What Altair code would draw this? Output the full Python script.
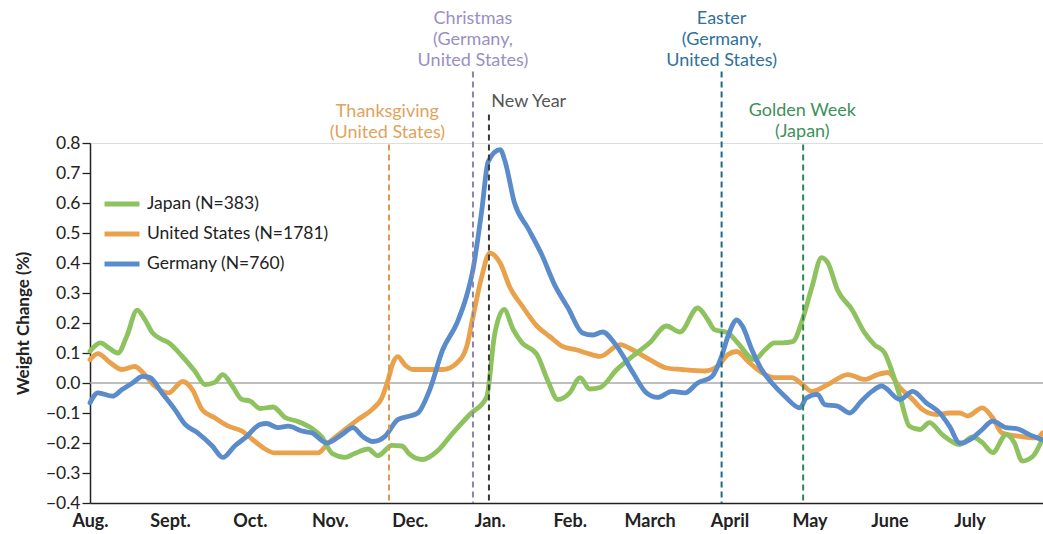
import altair as alt
import pandas as pd

# ---------------- data ----------------
month_labels = ["Aug.", "Sept.", "Oct.", "Nov.", "Dec.", "Jan.", "Feb.",
                "March", "April", "May", "June", "July"]

series_names = ["Japan (N=383)", "United States (N=1781)", "Germany (N=760)"]
series_colors = ["#8dc25f", "#e9a24b", "#5a8bcb"]

# months since 1 August
jp_month = [0.00, 0.13, 0.23, 0.35, 0.46, 0.59, 0.69, 0.78, 0.90, 0.98, 1.15, 1.31,
            1.44, 1.56, 1.66, 1.78, 1.90, 2.00, 2.13, 2.29, 2.44, 2.60, 2.78, 2.90,
            3.03, 3.19, 3.31, 3.48, 3.60, 3.78, 3.90, 4.00, 4.16, 4.34, 4.54, 4.75,
            4.96, 5.06, 5.18, 5.29, 5.40, 5.59, 5.73, 5.85, 6.00, 6.13, 6.25, 6.38,
            6.59, 6.79, 7.00, 7.21, 7.38, 7.60, 7.73, 7.81, 7.98, 8.10, 8.31, 8.44,
            8.56, 8.66, 8.79, 8.91, 9.03, 9.15, 9.23, 9.35, 9.53, 9.69, 9.81, 9.94,
            10.00, 10.13, 10.25, 10.38, 10.50, 10.66, 10.88, 11.04, 11.16, 11.29,
            11.46, 11.56, 11.66, 11.79, 11.91]
jp_value = [0.106, 0.134, 0.118, 0.100, 0.156, 0.243, 0.210, 0.168, 0.145, 0.135, 0.090, 0.040,
            -0.005, 0.002, 0.028, -0.010, -0.055, -0.060, -0.085, -0.080, -0.115, -0.128, -0.152, -0.180,
            -0.235, -0.248, -0.235, -0.220, -0.242, -0.208, -0.210, -0.238, -0.255, -0.228, -0.166, -0.105,
            -0.048, 0.160, 0.245, 0.180, 0.135, 0.095, 0.005, -0.055, -0.033, 0.018, -0.020, -0.015,
            0.045, 0.090, 0.134, 0.190, 0.170, 0.250, 0.210, 0.178, 0.167, 0.134, 0.078, 0.110,
            0.134, 0.134, 0.138, 0.210, 0.320, 0.418, 0.400, 0.310, 0.245, 0.167, 0.128, 0.100,
            0.062, -0.044, -0.144, -0.155, -0.132, -0.172, -0.205, -0.180, -0.198, -0.232,
            -0.172, -0.198, -0.260, -0.245, -0.188]

us_month = [0.00, 0.10, 0.25, 0.40, 0.56, 0.66, 0.81, 0.98, 1.16, 1.28, 1.40, 1.56,
            1.73, 1.90, 2.04, 2.19, 2.31, 2.56, 2.85, 2.98, 3.19, 3.35, 3.53, 3.65,
            3.73, 3.79, 3.85, 3.94, 4.04, 4.21, 4.41, 4.59, 4.71, 4.79, 4.90, 5.00,
            5.13, 5.25, 5.41, 5.59, 5.75, 5.91, 6.09, 6.21, 6.38, 6.63, 6.79, 7.00,
            7.21, 7.40, 7.69, 7.85, 7.98, 8.09, 8.23, 8.40, 8.56, 8.78, 8.91, 9.03,
            9.23, 9.48, 9.69, 9.85, 9.98, 10.13, 10.29, 10.41, 10.59, 10.75, 10.88,
            10.98, 11.16, 11.29, 11.41, 11.63, 11.84, 11.91]
us_value = [0.078, 0.098, 0.068, 0.045, 0.055, 0.035, -0.010, -0.033, 0.005, -0.022, -0.088, -0.116,
            -0.144, -0.160, -0.190, -0.220, -0.233, -0.233, -0.233, -0.200, -0.155, -0.122, -0.088, -0.050,
            0.012, 0.067, 0.088, 0.060, 0.045, 0.045, 0.045, 0.067, 0.120, 0.220, 0.355, 0.433,
            0.400, 0.320, 0.255, 0.190, 0.155, 0.122, 0.110, 0.100, 0.089, 0.128, 0.110, 0.078,
            0.050, 0.045, 0.040, 0.056, 0.095, 0.105, 0.072, 0.035, 0.018, 0.018, -0.005, -0.028,
            -0.005, 0.028, 0.012, 0.028, 0.035, -0.015, -0.055, -0.088, -0.105, -0.100, -0.100,
            -0.110, -0.083, -0.116, -0.167, -0.178, -0.183, -0.167]

de_month = [0.00, 0.10, 0.28, 0.40, 0.53, 0.66, 0.75, 0.90, 1.06, 1.19, 1.35, 1.53,
            1.66, 1.81, 1.94, 2.13, 2.21, 2.35, 2.48, 2.65, 2.78, 2.96, 3.15, 3.29,
            3.41, 3.54, 3.69, 3.85, 4.00, 4.10, 4.25, 4.41, 4.59, 4.71, 4.79, 4.90,
            4.98, 5.13, 5.19, 5.31, 5.48, 5.65, 5.81, 5.98, 6.16, 6.29, 6.41, 6.59,
            6.79, 6.96, 7.10, 7.28, 7.44, 7.60, 7.78, 7.90, 7.98, 8.09, 8.16, 8.28,
            8.40, 8.53, 8.69, 8.88, 8.96, 9.10, 9.19, 9.35, 9.50, 9.65, 9.78, 9.90,
            10.13, 10.29, 10.46, 10.63, 10.75, 10.88, 11.04, 11.16, 11.29, 11.46,
            11.59, 11.75, 11.90]
de_value = [-0.066, -0.033, -0.044, -0.022, 0.000, 0.022, 0.018, -0.033, -0.088, -0.138, -0.167, -0.210,
            -0.248, -0.210, -0.183, -0.138, -0.135, -0.149, -0.144, -0.160, -0.167, -0.200, -0.172, -0.149,
            -0.178, -0.195, -0.178, -0.122, -0.110, -0.100, -0.022, 0.110, 0.200, 0.290, 0.378, 0.575,
            0.738, 0.778, 0.740, 0.600, 0.515, 0.428, 0.328, 0.250, 0.167, 0.160, 0.170, 0.122,
            0.035, -0.033, -0.048, -0.028, -0.033, 0.000, 0.022, 0.089, 0.156, 0.210, 0.190, 0.110,
            0.045, 0.000, -0.044, -0.083, -0.050, -0.038, -0.072, -0.077, -0.100, -0.060, -0.028, -0.010,
            -0.055, -0.028, -0.066, -0.100, -0.144, -0.200, -0.183, -0.155, -0.127, -0.149,
            -0.152, -0.172, -0.188]

# holidays (vertical dashed lines)
holiday_month = [3.74, 4.79, 4.99, 7.90, 8.92]
holiday_top = [0.795, 1.038, 0.895, 1.038, 0.795]
holiday_color = ["#d99a50", "#8c84ad", "#3a3a3a", "#1f6b87", "#2e8555"]

# annotation labels (y = centre of the first text line)
label_text = ["Thanksgiving\n(United States)",
              "Christmas\n(Germany,\nUnited States)",
              "Easter\n(Germany,\nUnited States)",
              "Golden Week\n(Japan)"]
label_month = [3.72, 4.79, 7.90, 8.91]
label_first = [0.903, 1.213, 1.213, 0.907]
label_color = ["#e0a35c", "#9a8fc2", "#2f7198", "#3e8f5c"]

newyear_text = ["New Year"]
newyear_month = [5.02]
newyear_first = [0.936]
newyear_color = ["#555555"]

y_ticks = [-0.4, -0.3, -0.2, -0.1, 0.0, 0.1, 0.2, 0.3, 0.4, 0.5, 0.6, 0.7, 0.8]

# ---------------- tables ----------------
frames = []
for name, m, v in zip(series_names, [jp_month, us_month, de_month],
                      [jp_value, us_value, de_value]):
    frames.append(pd.DataFrame({"series": name, "month": m, "value": v}))
df = pd.concat(frames, ignore_index=True)

hol = pd.DataFrame({"month": holiday_month, "top": holiday_top,
                    "bottom": [-0.4] * len(holiday_month), "color": holiday_color})
lab = pd.DataFrame({"month": label_month, "y": label_first, "text": label_text,
                    "color": label_color})
ny = pd.DataFrame({"month": newyear_month, "y": newyear_first, "text": newyear_text,
                   "color": newyear_color})

FONT = "Lato"

label_expr = "[" + ",".join("'" + s + "'" for s in month_labels) + "][datum.value]"

x_scale = alt.Scale(domain=[0, 11.92], nice=False, zero=False)
y_scale = alt.Scale(domain=[-0.4, 0.8], nice=False, zero=False)

x_axis = alt.Axis(values=list(range(12)), labelExpr=label_expr, ticks=False, grid=False,
                  labelFontWeight="bold", labelFontSize=18, labelPadding=9,
                  labelColor="#222222", domainColor="#222222", domainWidth=1.5,
                  labelFlush=False, labelOverlap=False, title=None)
y_axis = alt.Axis(values=y_ticks, format=".1f", grid=False, tickSize=8,
                  tickColor="#222222", tickWidth=1.3, domainColor="#222222", domainWidth=1.5,
                  labelFontSize=17.5, labelColor="#222222", labelPadding=2, labelOverlap=False,
                  labelFlush=False, labelBound=False, tickCount=13,
                  title="Weight Change (%)", titleFontSize=17, titleFontWeight="bold",
                  titleColor="#222222", titleX=-67, titleY=180, titleBaseline="middle")

color = alt.Color("series:N",
                  scale=alt.Scale(domain=series_names, range=series_colors),
                  legend=alt.Legend(orient="none", legendX=12, legendY=41, title=None,
                                    symbolType="stroke", symbolStrokeWidth=5,
                                    symbolSize=1225, labelFontSize=17.5, labelOffset=5,
                                    labelColor="#222222", rowPadding=-9, padding=0,
                                    labelLimit=400, labelFont=FONT))

base = alt.Chart(df)

X = lambda f: alt.X(f, scale=x_scale, axis=x_axis)
Y = lambda f: alt.Y(f, scale=y_scale, axis=y_axis)

zero = alt.Chart(pd.DataFrame({"v": [0.0]})).mark_rule(color="#aaaaaa", strokeWidth=1.5).encode(
    y=Y("v:Q"))


def series_layer(name):
    return base.transform_filter(alt.datum.series == name).mark_line(
        strokeWidth=4.8, interpolate="monotone", strokeCap="round", strokeJoin="round").encode(
        x=X("month:Q"), y=Y("value:Q"), color=color)


lines = [series_layer(series_names[1]), series_layer(series_names[0]),
         series_layer(series_names[2])]

rules = alt.Chart(hol).mark_rule(strokeWidth=2, strokeDash=[6, 4], clip=False).encode(
    x=X("month:Q"), y=Y("top:Q"), y2="bottom:Q",
    color=alt.Color("color:N", scale=None))

labels = alt.Chart(lab).mark_text(font=FONT, fontSize=18, lineBreak="\n", lineHeight=21,
                                  align="center", baseline="middle", clip=False).encode(
    x=X("month:Q"), y=Y("y:Q"), text="text:N",
    color=alt.Color("color:N", scale=None))

newyear = alt.Chart(ny).mark_text(font=FONT, fontSize=18, align="left", baseline="middle",
                                  clip=False).encode(
    x=X("month:Q"), y=Y("y:Q"), text="text:N",
    color=alt.Color("color:N", scale=None))

chart = alt.layer(zero, *lines, rules, labels, newyear).properties(
    width=953, height=360,
    padding={"left": 90, "top": 143, "right": 0, "bottom": 31},
    autosize=alt.AutoSizeParams(type="none"),
).configure_view(stroke=None).configure(font=FONT).configure_axis(labelFont=FONT, titleFont=FONT)

chart.save("out.html", embed_options={"renderer": "svg", "actions": False})
